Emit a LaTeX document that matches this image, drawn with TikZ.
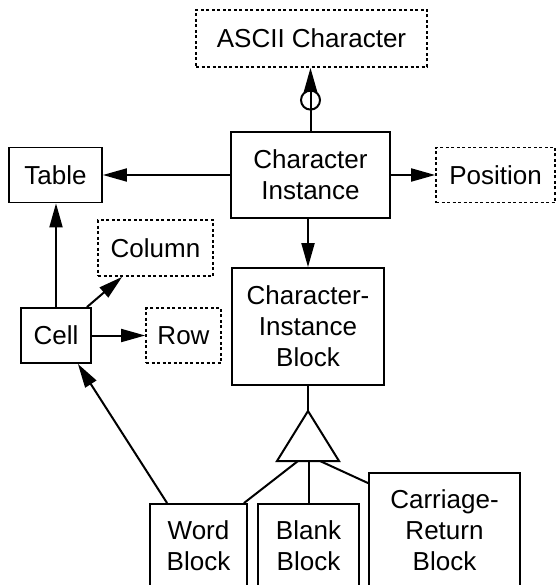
\documentclass[tikz,border=0pt]{standalone}
\usepackage{fontspec}
\setmainfont{Liberation Sans}
\usetikzlibrary{arrows.meta,calc}
\begin{document}
\begin{tikzpicture}[x=1pt,y=-1pt,
  font=\fontsize{26}{31}\selectfont, line width=1.8pt,
  box/.style={draw, rectangle, inner sep=0pt, align=center},
  dbox/.style={box, dash pattern=on 3pt off 2.5pt},
  link/.style={draw, line width=2pt},
  arr/.style={link, -{Triangle[length=24pt,width=13pt]}}]
\clip (0,0) rectangle (557,585);
% nodes
\node[dbox, minimum width=231pt, minimum height=57pt] (ascii) at (311.5,38.5) {ASCII Character};
\node[box, minimum width=159pt, minimum height=86pt] (ci) at (310.5,175) {Character\\Instance};
\node[box, minimum width=93pt, minimum height=55pt] (table) at (55.5,175) {Table};
\node[dbox, minimum width=119pt, minimum height=55pt] (pos) at (495.5,175) {Position};
\node[dbox, minimum width=115pt, minimum height=56pt] (col) at (155.5,248) {Column};
\node[box, minimum width=70pt, minimum height=55pt] (cell) at (56,335.5) {Cell};
\node[dbox, minimum width=75pt, minimum height=55pt] (row) at (183.5,335.5) {Row};
\node[box, minimum width=152pt, minimum height=117pt] (cib) at (308,326.5) {Character-\\Instance\\Block};
\node[box, minimum width=97pt, minimum height=84pt] (word) at (198.5,546) {Word\\Block};
\node[box, minimum width=101pt, minimum height=84pt] (blank) at (308.5,546) {Blank\\Block};
\node[box, minimum width=151pt, minimum height=115pt] (cr) at (444.5,530.5) {Carriage-\\Return\\Block};
\node[circle, draw, line width=2pt, minimum size=19pt, inner sep=0pt] (ring) at ($(ci.north)+(0,-31)$) {};
% triangle
\coordinate (apex) at (308,411);
\coordinate (bl) at (277,461);
\coordinate (br) at (339,461);
\coordinate (t1) at (298,461);
\coordinate (t3) at (320,461);
\draw[link] (apex) -- (bl) -- (br) -- cycle;
% connectors
\path[arr] (ci.north) -- (ci.north |- ascii.south);
\path[arr] (ci.west) -- (table.east);
\path[arr] (ci.east) -- (pos.west);
\path[arr] (cib.north |- ci.south) -- (cib.north);
\path[arr] (cell.north) -- (cell.north |- table.south);
\path[arr] ($(cell.north east)+(-5,0)$) -- ($(col.south west)+(25,0)$);
\path[arr] (cell.east) -- (row.west);
\path[arr] ($(word.north west)+(18,0)$) -- ($(cell.south east)+(-14,0)$);
\path[link] (cib.south) -- (apex);
\path[link] (t1) -- ($(word.north east)+(-4,0)$);
\path[link] (blank.north |- bl) -- (blank.north);
\path[link] (t3) -- ($(cr.north west)+(0,11)$);
\end{tikzpicture}
\end{document}
